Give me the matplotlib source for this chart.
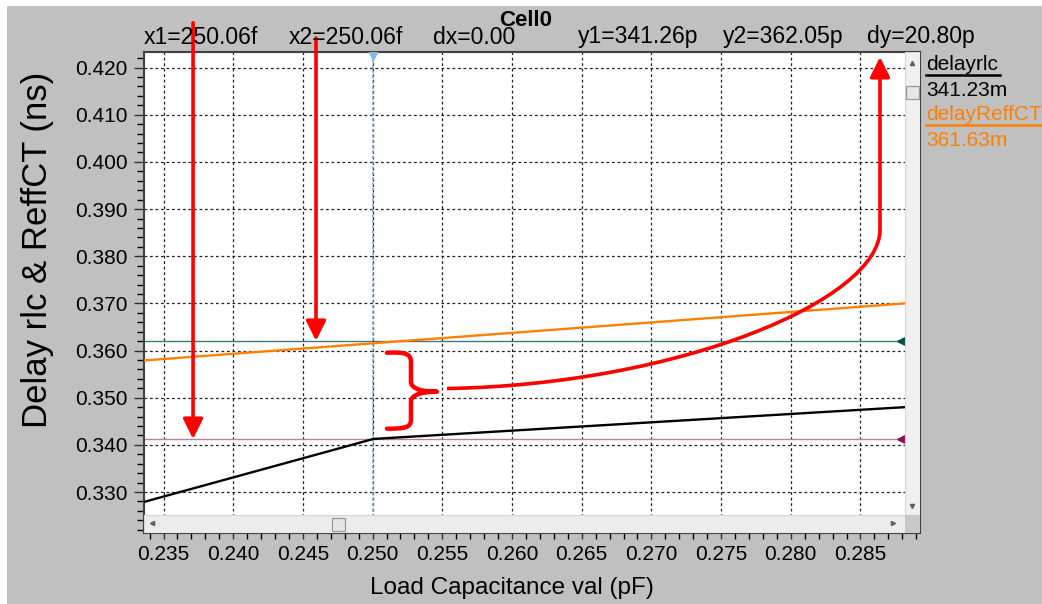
import matplotlib.pyplot as plt
from matplotlib.patches import Rectangle, PathPatch
from matplotlib.path import Path
from matplotlib.ticker import MultipleLocator, FormatStrFormatter

plt.rcParams['font.family'] = ['Liberation Sans', 'DejaVu Sans']

# delay sweeps vs load capacitance (pF -> ns)
cap_rlc = [0.2336, 0.25006, 0.2882]
delay_rlc = [0.3279, 0.34126, 0.3480]
cap_reff = [0.2336, 0.2882]
delay_reff = [0.3579, 0.3700]

# cursor readout
cursor_x = 0.25006
cursor_y1 = 0.34126
cursor_y2 = 0.36205
cursor_text = ['x1=250.06f', 'x2=250.06f', 'dx=0.00',
               'y1=341.26p', 'y2=362.05p', 'dy=20.80p']

legend_names = ['delayrlc', 'delayReffCT']
legend_values = ['341.23m', '361.63m']
legend_colors = ['black', '#ff8000']

W, H = 1042, 604
fig = plt.figure(figsize=(W / 100, H / 100), dpi=100, facecolor='white')
fig.patches.append(Rectangle((7 / W, 0), 1, 1 - 6 / H, transform=fig.transFigure,
                             facecolor='#c0c0c0', edgecolor='none', zorder=-10))

ax = fig.add_axes([144 / W, 1 - 533 / H, 776 / W, 481 / H])
ax.set_xlim(0.2336, 0.28927)
ax.set_ylim(0.32131, 0.42331)

ax.xaxis.set_major_locator(MultipleLocator(0.005))
ax.xaxis.set_minor_locator(MultipleLocator(0.001))
ax.yaxis.set_major_locator(MultipleLocator(0.01))
ax.yaxis.set_minor_locator(MultipleLocator(0.002))
ax.xaxis.set_major_formatter(FormatStrFormatter('%.3f'))
ax.yaxis.set_major_formatter(FormatStrFormatter('%.3f'))
ax.tick_params(axis='both', labelsize=15, colors='#303030', labelcolor='black')
ax.tick_params(axis='y', which='major', length=7, width=1, pad=5)
ax.tick_params(axis='y', which='minor', length=5, width=1)
ax.tick_params(axis='x', which='both', length=4, width=1, pad=5)
for sp in ax.spines.values():
    sp.set_color('#404040')
    sp.set_linewidth(1.5)

ax.grid(True, which='major', color='#202020', linestyle=(0, (2.2, 2.2)), linewidth=0.9)
ax.set_axisbelow(True)

# traces
ax.plot(cap_rlc, delay_rlc, color='black', lw=1.7, zorder=3)
ax.plot(cap_reff, delay_reff, color=legend_colors[1], lw=1.7, zorder=3)

# cursors
x_end = 0.2881
ax.plot([ax.get_xlim()[0], x_end], [cursor_y2, cursor_y2], color='#3f7a78', lw=1.0, zorder=2)
ax.plot([ax.get_xlim()[0], x_end], [cursor_y1, cursor_y1], color='#c07f9f', lw=1.0, zorder=2)
ax.plot([x_end], [cursor_y2], marker='<', ms=10, color='#0d4d4b', zorder=4)
ax.plot([x_end], [cursor_y1], marker='<', ms=10, color='#8d1050', zorder=4)
ax.axvline(cursor_x, color='#6fa3d8', lw=1.1, linestyle=(0, (2, 1.5)), zorder=2)
ax.plot([cursor_x], [0.4225], marker='v', ms=6, color='#8ab8e6', zorder=4)

# scroll bars
sx = (905 - 144) / 776
sy = (533 - 515) / 481
ax.add_patch(Rectangle((0, 0), sx, sy, transform=ax.transAxes, facecolor='#ececec',
                       edgecolor='#d6d6d6', lw=0.8, zorder=6))
ax.add_patch(Rectangle((sx, sy), 1 - sx, 1 - sy, transform=ax.transAxes, facecolor='#f0f0f0',
                       edgecolor='#d6d6d6', lw=0.8, zorder=6))
ax.add_patch(Rectangle((sx, 0), 1 - sx, sy, transform=ax.transAxes, facecolor='#c8c8c8',
                       edgecolor='none', zorder=6))
ax.add_patch(Rectangle(((332 - 144) / 776, (533 - 531) / 481), 13 / 776, 13 / 481,
                       transform=ax.transAxes, facecolor='#e6e6e6', edgecolor='#9a9a9a',
                       lw=0.9, zorder=7))
ax.add_patch(Rectangle(((906 - 144) / 776, (533 - 99) / 481), 13 / 776, 13 / 481,
                       transform=ax.transAxes, facecolor='#e6e6e6', edgecolor='#9a9a9a',
                       lw=0.9, zorder=7))
for mk, (px, py) in zip(['^', 'v', '<', '>'],
                        [(912, 63), (912, 506), (152, 523), (893, 523)]):
    ax.plot([(px - 144) / 776], [(533 - py) / 481], marker=mk, ms=3, color='#606060',
            transform=ax.transAxes, zorder=8, clip_on=False)

# header and axis titles
fig.text(526 / W, 1 - 20 / H, 'Cell0', fontsize=16, fontweight='bold', ha='center', va='center')
for i, s in enumerate(cursor_text):
    fig.text((144 + i * 144.7) / W, 1 - 37 / H, s, fontsize=16.6, ha='left', va='center')
fig.text(38 / W, 1 - 250 / H, 'Delay rlc & ReffCT (ns)', fontsize=25, rotation=90,
         ha='center', va='center')
fig.text(512 / W, 1 - 588 / H, 'Load Capacitance val (pF)', fontsize=17.5,
         ha='center', va='center')

# trace legend
for i, (name, val, col) in enumerate(zip(legend_names, legend_values, legend_colors)):
    y0 = 65 + i * 50
    fig.text(926 / W, 1 - y0 / H, name, fontsize=15, color=col, ha='left', va='center')
    fig.text(926 / W, 1 - (y0 + 25) / H, val, fontsize=15, color=col, ha='left', va='center')
    x_ul = 1000 if i == 0 else 1042
    fig.add_artist(plt.Line2D([926 / W, x_ul / W], [1 - (y0 + 10) / H] * 2,
                              color=col, lw=1.8))

# red markup
red = dict(arrowstyle='-|>,head_length=0.8,head_width=0.4', color='red', lw=2.6,
           shrinkA=0, shrinkB=0, mutation_scale=15)
ax.annotate('', xy=(0.23712, cursor_y1), xytext=(0.23712, 0.4295),
            arrowprops=red, annotation_clip=False)
ax.annotate('', xy=(0.24594, cursor_y2), xytext=(0.24594, 0.42627),
            arrowprops=red, annotation_clip=False)

brace = Path([(0.25103, 0.35953), (0.25232, 0.35974), (0.25275, 0.35932), (0.25275, 0.35762),
              (0.25275, 0.35339),
              (0.25275, 0.35169), (0.25376, 0.35127), (0.25462, 0.35127),
              (0.25376, 0.35127), (0.25275, 0.35084), (0.25275, 0.34915),
              (0.25275, 0.34534),
              (0.25275, 0.34364), (0.25232, 0.34343), (0.25103, 0.34343)],
             [Path.MOVETO, Path.CURVE4, Path.CURVE4, Path.CURVE4, Path.LINETO,
              Path.CURVE4, Path.CURVE4, Path.CURVE4,
              Path.CURVE4, Path.CURVE4, Path.CURVE4, Path.LINETO,
              Path.CURVE4, Path.CURVE4, Path.CURVE4])
ax.add_patch(PathPatch(brace, fill=False, edgecolor='red', lw=3.2, capstyle='round',
                       joinstyle='round', zorder=5, clip_on=False))

sweep = Path([(0.25534, 0.35195), (0.27205, 0.35280), (0.28640, 0.37081), (0.28640, 0.38564)],
             [Path.MOVETO, Path.CURVE4, Path.CURVE4, Path.CURVE4])
ax.add_patch(PathPatch(sweep, fill=False, edgecolor='red', lw=2.6, zorder=5, clip_on=False))
ax.annotate('', xy=(0.28640, 0.42224), xytext=(0.28640, 0.38564),
            arrowprops=red, annotation_clip=False)

fig.savefig('out.png', dpi=100, facecolor=fig.get_facecolor())
